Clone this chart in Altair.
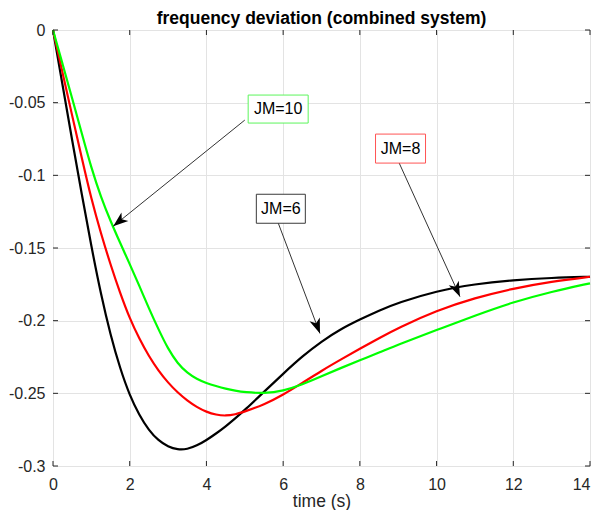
import math
import altair as alt
import pandas as pd

# ---------------- data ----------------
time = [0, 0.25, 0.5, 0.75, 1.0, 1.25, 1.5, 1.75, 2.0, 2.25, 2.5, 2.75, 3.0,
        3.25, 3.5, 3.75, 4.0, 4.25, 4.5, 4.75, 5.0, 5.5, 6.0, 6.5, 7.0, 7.5,
        8.0, 8.5, 9.0, 10.0, 11.0, 12.0, 13.0, 14.0]
jm6 = [0, -0.038, -0.076, -0.113, -0.149, -0.182, -0.210, -0.233, -0.2515,
       -0.2650, -0.2755, -0.2825, -0.2868, -0.2888, -0.2885, -0.2860, -0.2822,
       -0.2777, -0.2728, -0.2673, -0.2615, -0.2490, -0.2365, -0.2245, -0.2143,
       -0.2058, -0.1992, -0.1930, -0.1876, -0.1795, -0.1748, -0.1720, -0.1705,
       -0.1698]
jm8 = [0, -0.0295, -0.059, -0.088, -0.1165, -0.140, -0.1615, -0.181, -0.1985,
       -0.2125, -0.2245, -0.2345, -0.2427, -0.2495, -0.2550, -0.2595, -0.2628,
       -0.2648, -0.2655, -0.2646, -0.2625, -0.2578, -0.2510, -0.2428, -0.2345,
       -0.2268, -0.2193, -0.2120, -0.2050, -0.1930, -0.1843, -0.1778, -0.1730,
       -0.1698]
jm10 = [0, -0.0235, -0.047, -0.071, -0.095, -0.1150, -0.1315, -0.1465, -0.1610,
        -0.176, -0.1915, -0.2060, -0.2195, -0.2295, -0.2360, -0.2402, -0.2430,
        -0.2450, -0.2468, -0.2482, -0.2493, -0.2500, -0.2484, -0.2440, -0.2383,
        -0.2326, -0.2272, -0.2220, -0.2164, -0.2065, -0.1965, -0.1872, -0.1800,
        -0.1743]

series_names = ["JM=6", "JM=8", "JM=10"]
series_colors = ["#000000", "#ff0000", "#00ff00"]

x_ticks = [0, 2, 4, 6, 8, 10, 12, 14]
y_ticks = [-0.3, -0.25, -0.2, -0.15, -0.1, -0.05, 0]

ann_text = ["JM=10", "JM=8", "JM=6"]
ann_x = [5.87, 9.06, 5.94]
ann_y = [-0.0544, -0.0816, -0.123]
arrow_from_x = [5.0, 8.99, 5.86]
arrow_from_y = [-0.062, -0.0895, -0.132]
arrow_to_x = [1.57, 10.61, 6.96]
arrow_to_y = [-0.135, -0.1835, -0.2088]

title_text = "frequency deviation (combined system)"

# ---------------- styling ----------------
W, H = 537, 436
X_MIN, X_MAX = 0, 14
Y_MIN, Y_MAX = -0.3, 0
FONT = "Liberation Sans"
AX_COLOR = "#262626"
ann_edge = ["#5cf55c", "#ff5555", "#3a3a3a"]
box_half = [(30, 14), (25, 14.5), (24.5, 14.5)]
ARROW_PATH = "M0,0 L-5.5,15 L0,11 L5.5,15 Z"

xscale = alt.Scale(domain=[X_MIN, X_MAX], nice=False, zero=False)
yscale = alt.Scale(domain=[Y_MIN, Y_MAX], nice=False, zero=False)
xaxis = alt.Axis(title="time (s)", values=x_ticks, labelExpr="toString(datum.value)",
                 grid=True, gridColor="#e3e3e3", gridWidth=1, domain=False,
                 ticks=False, tickSize=0, labelPadding=10, labelFontSize=16,
                 labelFont=FONT, labelColor=AX_COLOR, titleFont=FONT,
                 titleFontSize=17.5, titleFontWeight="normal", titleColor=AX_COLOR,
                 titlePadding=0, labelFlush=False,
                 labelAlign={"condition": {"test": f"datum.value >= {X_MAX}",
                                           "value": "right"},
                             "value": "center"})
yaxis = alt.Axis(title=None, values=y_ticks, labelExpr="toString(datum.value)",
                 grid=True, gridColor="#e3e3e3", gridWidth=1, domain=False,
                 ticks=False, tickSize=0, labelPadding=8, labelFontSize=16,
                 labelFont=FONT, labelColor=AX_COLOR, labelFlush=False)


def X(field):
    return alt.X(f"{field}:Q", scale=xscale, axis=xaxis)


def Y(field):
    return alt.Y(f"{field}:Q", scale=yscale, axis=yaxis)


layers = []

# curves
for name, vals, col in zip(series_names, [jm6, jm8, jm10], series_colors):
    df = pd.DataFrame({"time": time, "value": vals})
    layers.append(
        alt.Chart(df).mark_line(color=col, strokeWidth=2.2, interpolate="basis")
        .encode(x=X("time"), y=Y("value"))
    )

# inward ticks on all four sides
xt = pd.DataFrame({"time": x_ticks})
yt = pd.DataFrame({"value": y_ticks})
layers.append(alt.Chart(xt).mark_rule(color=AX_COLOR, strokeWidth=1)
              .encode(x=X("time"), y=alt.value(H), y2=alt.value(H - 5)))
layers.append(alt.Chart(xt).mark_rule(color=AX_COLOR, strokeWidth=1)
              .encode(x=X("time"), y=alt.value(0), y2=alt.value(5)))
layers.append(alt.Chart(yt).mark_rule(color=AX_COLOR, strokeWidth=1)
              .encode(y=Y("value"), x=alt.value(0), x2=alt.value(5)))
layers.append(alt.Chart(yt).mark_rule(color=AX_COLOR, strokeWidth=1)
              .encode(y=Y("value"), x=alt.value(W), x2=alt.value(W - 5)))

# annotations
for i in range(len(ann_text)):
    fx, fy, tx, ty = arrow_from_x[i], arrow_from_y[i], arrow_to_x[i], arrow_to_y[i]
    dx = (tx - fx) / (X_MAX - X_MIN) * W
    dy = -(ty - fy) / (Y_MAX - Y_MIN) * H
    ang = math.degrees(math.atan2(dx, -dy)) % 360
    arr = pd.DataFrame({"time": [fx], "value": [fy], "time2": [tx], "value2": [ty]})
    layers.append(alt.Chart(arr).mark_rule(color="#333333", strokeWidth=1)
                  .encode(x=X("time"), y=Y("value"), x2="time2:Q", y2="value2:Q"))
    head = pd.DataFrame({"time": [tx], "value": [ty], "ang": [ang]})
    layers.append(alt.Chart(head).mark_point(shape=ARROW_PATH, size=4, filled=True,
                                             fill="#000000", opacity=1, strokeWidth=0)
                  .encode(x=X("time"), y=Y("value"), angle=alt.Angle("ang:Q", scale=None)))
    hw, hh = box_half[i]
    box_path = f"M{-hw},{-hh} L{hw},{-hh} L{hw},{hh} L{-hw},{hh} Z"
    lab = pd.DataFrame({"time": [ann_x[i]], "value": [ann_y[i]], "txt": [ann_text[i]]})
    layers.append(alt.Chart(lab).mark_point(shape=box_path, size=4, filled=True,
                                            fill="white", stroke=ann_edge[i],
                                            strokeWidth=1, opacity=1)
                  .encode(x=X("time"), y=Y("value")))
    layers.append(alt.Chart(lab).mark_text(font=FONT, fontSize=16, color="#000000",
                                           align="center", baseline="middle")
                  .encode(x=X("time"), y=Y("value"), text="txt:N"))

# chart title drawn as a text mark above the plot area
tdf = pd.DataFrame({"t": [title_text]})
layers.append(alt.Chart(tdf).mark_text(font=FONT, fontSize=17.5, fontWeight="bold",
                                       color="#000000", align="center",
                                       baseline="alphabetic")
              .encode(text="t:N", x=alt.value(W / 2), y=alt.value(-6.5)))

chart = alt.layer(*layers).properties(
    width=W, height=H,
    autosize=alt.AutoSizeParams(type="none"),
    padding={"left": 45, "top": 22, "right": 1, "bottom": 44},
).configure_view(stroke=AX_COLOR, strokeWidth=1).configure(background="white")

chart.save("out.html", embed_options={"renderer": "svg", "actions": False})
